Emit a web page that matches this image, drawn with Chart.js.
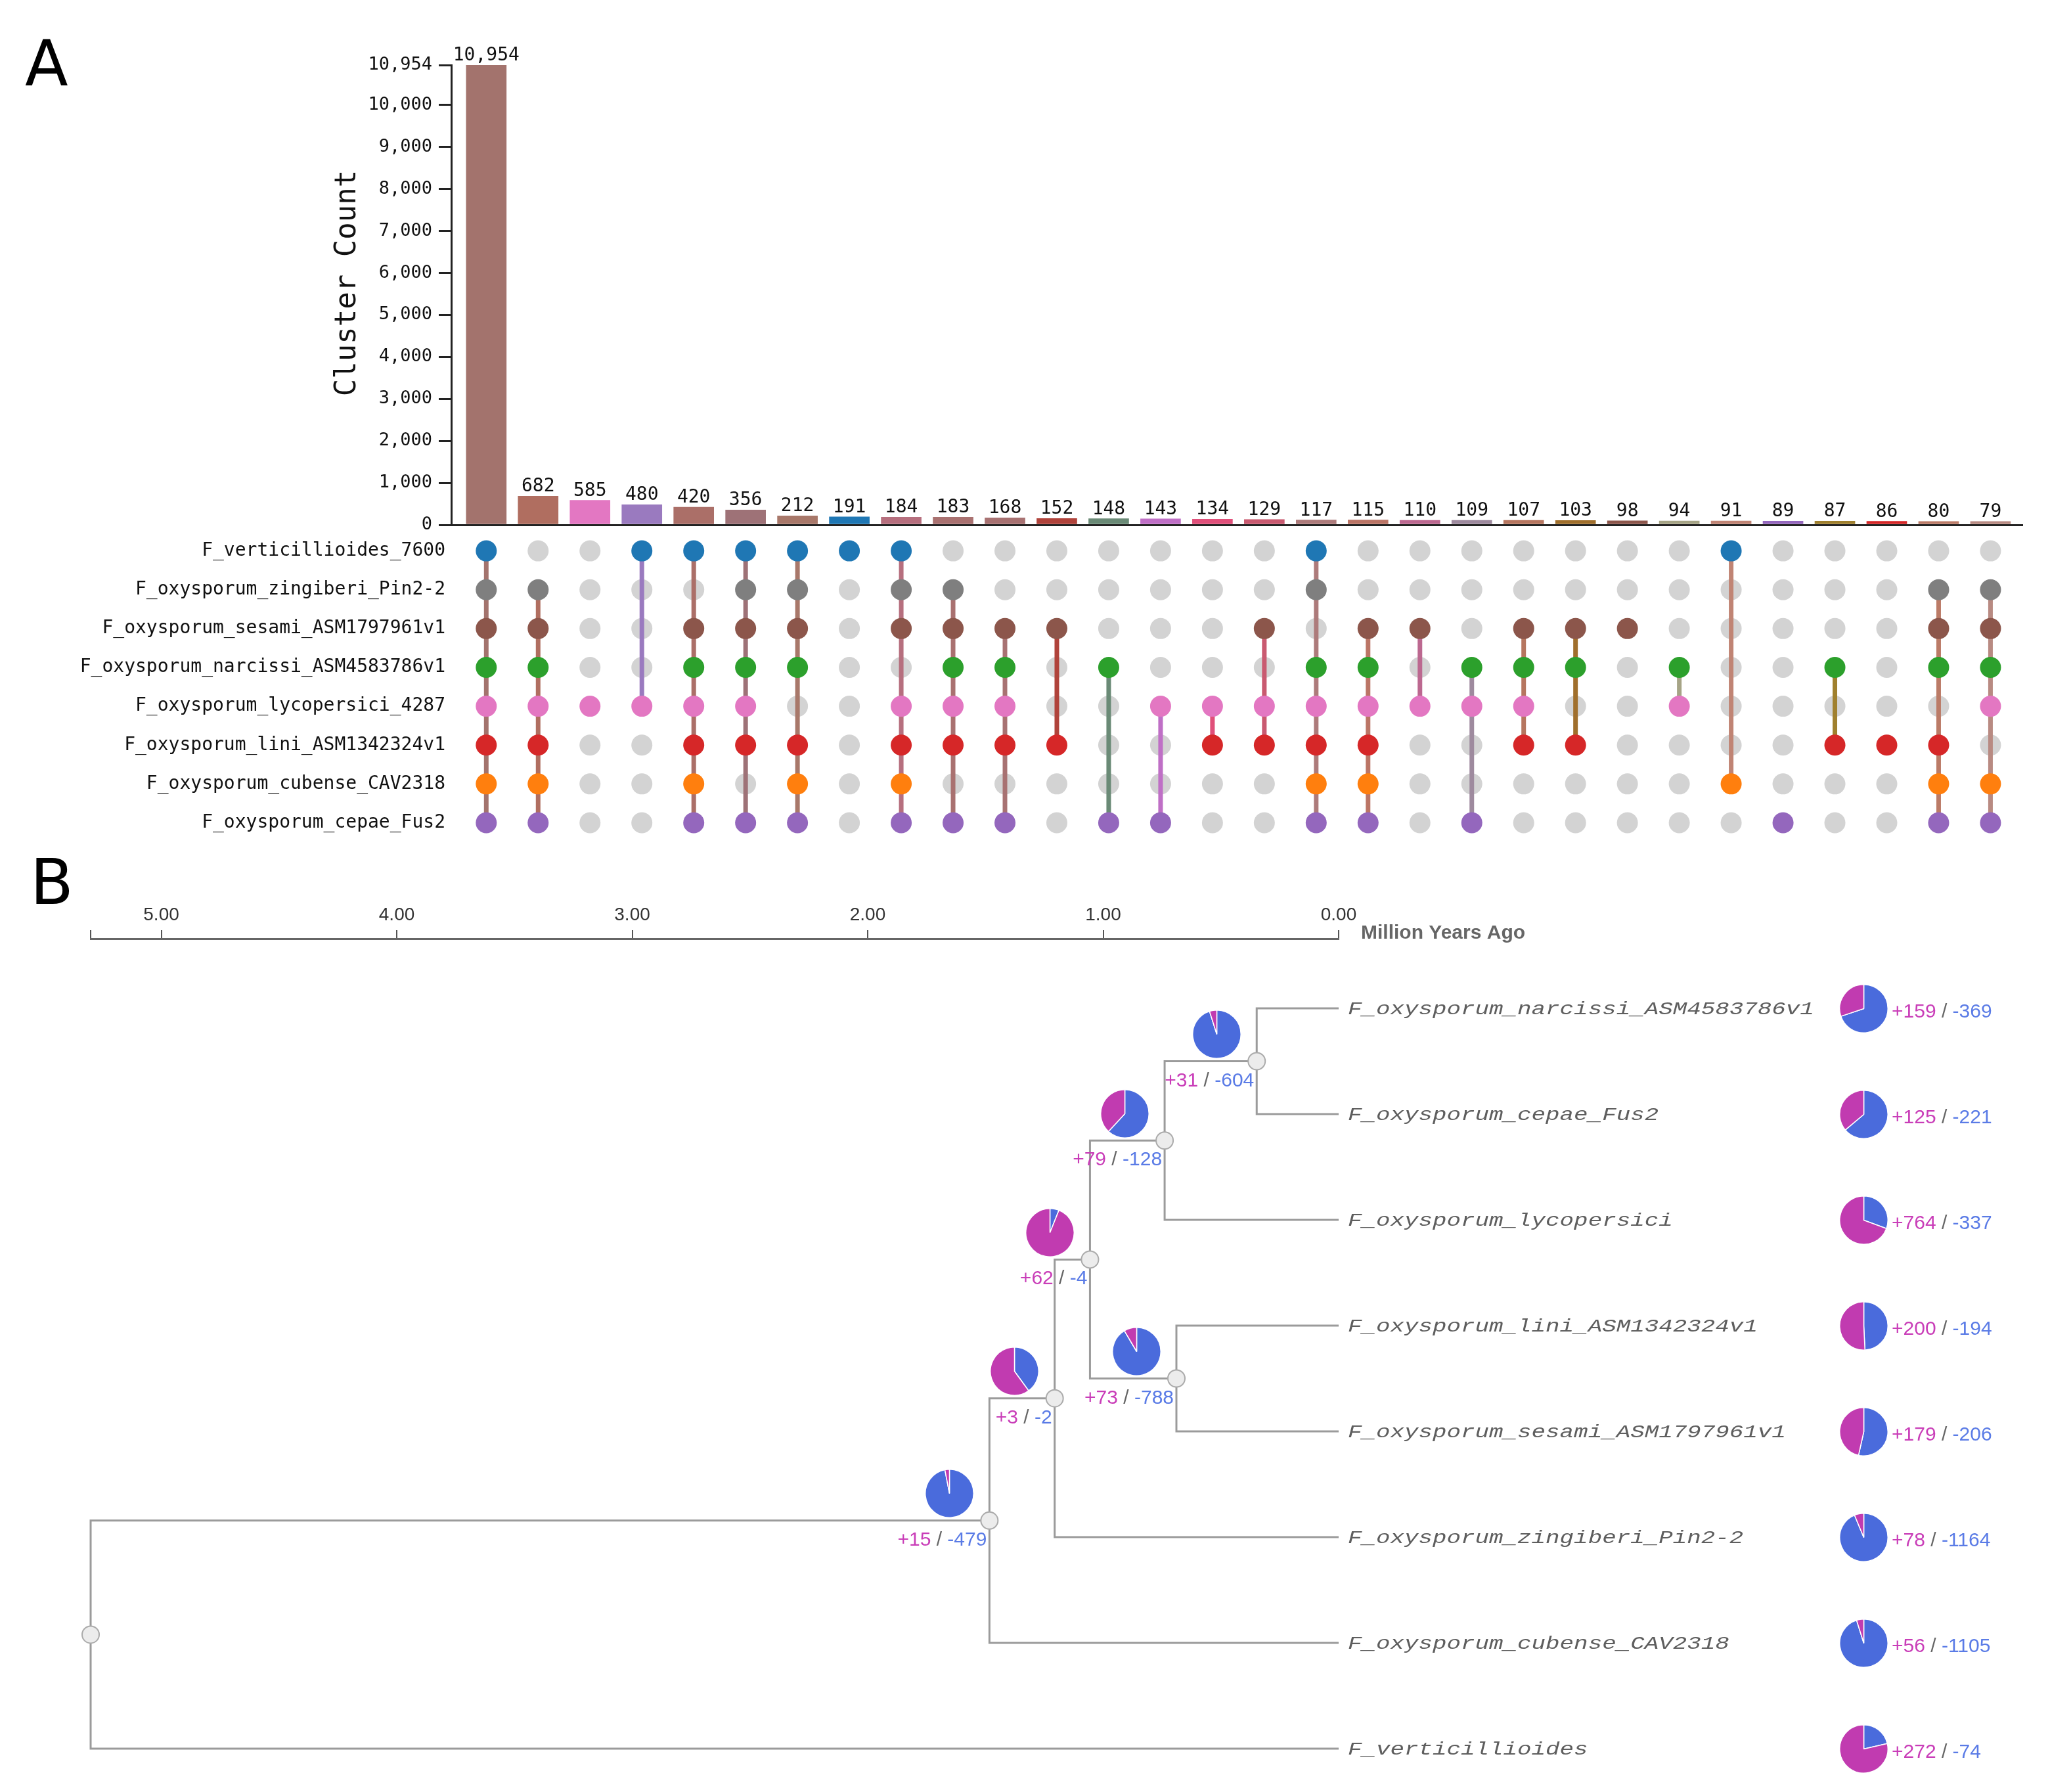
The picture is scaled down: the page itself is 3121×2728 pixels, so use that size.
<!DOCTYPE html>
<html><head><meta charset="utf-8">
<script src="https://cdn.jsdelivr.net/npm/chart.js@4.4.1/dist/chart.umd.min.js"></script>
<style>
html,body{margin:0;padding:0;background:#fff;}
#wrap{position:relative;width:3121px;height:2728px;overflow:hidden;background:#fff;}
canvas.full{position:absolute;left:0;top:0;}
.pie{position:absolute;}
.panel{position:absolute;font-family:"DejaVu Sans";font-size:96px;line-height:96px;color:#000;}
</style></head>
<body><div id="wrap">
<div class="panel" style="left:38px;top:49px">A</div>
<div class="panel" style="left:46px;top:1295px">B</div>
<canvas id="bars" class="full" width="3121" height="2728"></canvas>
<canvas id="matrix" class="full" width="3121" height="2728"></canvas>
<canvas id="tree" class="full" width="3121" height="2728"></canvas>
</div>
<script>
// ---------- Panel A data ----------
const counts = [10954,682,585,480,420,356,212,191,184,183,168,152,148,143,134,129,117,115,110,109,107,103,98,94,91,89,87,86,80,79];
const barColors = ['#a3736d','#b06e60','#e377c2','#9a7abf','#ab6f68','#9e7277','#a8786a','#1f77b4','#b66f7e','#a97170',
  '#a87272','#b0433b','#6a8a76','#bf6fc6','#e0507a','#c95a70','#ad7b7b','#bb7566','#bc6890','#9e8a9e',
  '#b6765f','#a06f2c','#8c564b','#a6a486','#c08474','#9467bd','#a0802e','#d62728','#bb7b67','#b88a82'];
const rowLabels = ['F_verticillioides_7600','F_oxysporum_zingiberi_Pin2-2','F_oxysporum_sesami_ASM1797961v1',
  'F_oxysporum_narcissi_ASM4583786v1','F_oxysporum_lycopersici_4287','F_oxysporum_lini_ASM1342324v1',
  'F_oxysporum_cubense_CAV2318','F_oxysporum_cepae_Fus2'];
const rowColors = ['#1f77b4','#7f7f7f','#8c564b','#2ca02c','#e377c2','#d62728','#ff7f0e','#9467bd'];
const membership = [
  [0,1,2,3,4,5,6,7],[1,2,3,4,5,6,7],[4],[0,4],[0,2,3,4,5,6,7],[0,1,2,3,4,5,7],[0,1,2,3,5,6,7],[0],
  [0,1,2,4,5,6,7],[1,2,3,4,5,7],[2,3,4,5,7],[2,5],[3,7],[4,7],[4,5],[2,4,5],[0,1,3,4,5,6,7],
  [2,3,4,5,6,7],[2,4],[3,4,7],[2,3,4,5],[2,3,5],[2],[3,4],[0,6],[7],[3,5],[5],[1,2,3,5,6,7],[1,2,3,4,6,7]];
const yTickValues = [0,1000,2000,3000,4000,5000,6000,7000,8000,9000,10000,10954];
const inactiveColor = '#d3d3d3';

// ---------- Panel B data ----------
const tipNames = ['F_oxysporum_narcissi_ASM4583786v1','F_oxysporum_cepae_Fus2','F_oxysporum_lycopersici',
  'F_oxysporum_lini_ASM1342324v1','F_oxysporum_sesami_ASM1797961v1','F_oxysporum_zingiberi_Pin2-2',
  'F_oxysporum_cubense_CAV2318','F_verticillioides'];
const tipGain = [159,125,764,200,179,78,56,272];
const tipLoss = [369,221,337,194,206,1164,1105,74];
const nodeAge = [0.348,0.739,0.689,1.056,1.206,1.483,5.30];
const nodeKids = [['t0','t1'],['n0','t2'],['t3','t4'],['n1','n2'],['n3','t5'],['n4','t6'],['n5','t7']];
const nodeGain = [31,79,73,62,3,15];
const nodeLoss = [604,128,788,4,2,479];
const axisTicks = [0,1,2,3,4,5,5.30];
const axisLabel = 'Million Years Ago';

const MAGENTA = '#c13bb0', BLUE = '#4a6bdc';
const MAG_TXT = '#c93db8', BLUE_TXT = '#5a7be6';

const fmt = v => v.toLocaleString('en-US');
const W = 3121, H = 2728;
const xMin = -0.675, xMax = 29.615;

// ---------- Bars ----------
const barLabelPlugin = {
  id: 'barLabels',
  afterDatasetsDraw(chart) {
    const ctx = chart.ctx;
    const meta = chart.getDatasetMeta(0);
    ctx.save();
    ctx.font = '28px "DejaVu Sans Mono"';
    ctx.fillStyle = '#111';
    ctx.textAlign = 'center';
    ctx.textBaseline = 'alphabetic';
    meta.data.forEach((el, i) => ctx.fillText(fmt(counts[i]), el.x, el.y - 7));
    // axis title
    ctx.translate(530, 431);
    ctx.rotate(-Math.PI / 2);
    ctx.font = '44px "DejaVu Sans Mono"';
    ctx.textBaseline = 'middle';
    ctx.fillText('Cluster Count', 0, 0);
    ctx.restore();
  }
};

new Chart(document.getElementById('bars'), {
  type: 'bar',
  data: { datasets: [{ data: counts.map((v, i) => ({ x: i, y: v })), backgroundColor: barColors, barThickness: 61, borderWidth: 0 }] },
  options: {
    responsive: false, animation: false, events: [],
    layout: { padding: { left: 504, top: 99, right: W - 3079, bottom: H - 799 } },
    plugins: { legend: { display: false }, tooltip: { enabled: false } },
    scales: {
      x: { type: 'linear', min: xMin, max: xMax, offset: false, grid: { display: false, drawTicks: false, offset: false }, ticks: { display: false },
           border: { display: true, color: '#222', width: 3 }, afterFit(s) { s.height = 0; } },
      y: { type: 'linear', min: 0, max: 10954,
           afterBuildTicks(s) { s.ticks = yTickValues.map(v => ({ value: v })); },
           ticks: { font: { family: 'DejaVu Sans Mono', size: 27 }, color: '#111', padding: 10, callback: v => fmt(v) },
           grid: { drawOnChartArea: false, drawTicks: true, tickLength: 19, color: '#222', lineWidth: 3 },
           border: { display: true, color: '#222', width: 3 },
           afterFit(s) { s.width = 687 - 504; } }
    }
  },
  plugins: [barLabelPlugin]
});

// ---------- Matrix ----------
const inactivePts = [];
membership.forEach((rows, c) => { for (let r = 0; r < rowLabels.length; r++) if (!rows.includes(r)) inactivePts.push({ x: c, y: r }); });
const matrixSets = membership.map((rows, c) => ({
  data: rows.map(r => ({ x: c, y: r })), showLine: true, borderColor: barColors[c], borderWidth: 7,
  pointRadius: 16, pointHoverRadius: 16, pointBackgroundColor: rows.map(r => rowColors[r]), pointBorderWidth: 0,
  clip: false, order: 1
}));
matrixSets.push({ data: inactivePts, showLine: false, pointRadius: 16, pointBackgroundColor: inactiveColor, pointBorderWidth: 0, clip: false, order: 5 });

new Chart(document.getElementById('matrix'), {
  type: 'scatter',
  data: { datasets: matrixSets },
  options: {
    responsive: false, animation: false, events: [],
    layout: { padding: { left: 0, top: 838.6, right: W - 3079, bottom: H - 1252.5 } },
    plugins: { legend: { display: false }, tooltip: { enabled: false } },
    scales: {
      x: { type: 'linear', min: xMin, max: xMax, display: false },
      y: { type: 'linear', min: 0, max: 7, reverse: true,
           afterBuildTicks(s) { s.ticks = rowLabels.map((_, i) => ({ value: i })); },
           ticks: { font: { family: 'DejaVu Sans Mono', size: 28 }, color: '#111', padding: 9, callback: v => rowLabels[v] },
           grid: { display: false, drawTicks: false }, border: { display: false },
           afterFit(s) { s.width = 687; } }
    }
  }
});

// ---------- Tree ----------
function pos(id) {
  if (id[0] === 't') return { x: 0, y: +id.slice(1) };
  const k = +id.slice(1);
  return { x: nodeAge[k], y: (pos(nodeKids[k][0]).y + pos(nodeKids[k][1]).y) / 2 };
}
const branchSets = nodeKids.map((kids, k) => {
  const a = pos(kids[0]), b = pos(kids[1]), x = nodeAge[k];
  return { data: [{ x: a.x, y: a.y }, { x: x, y: a.y }, { x: x, y: b.y }, { x: b.x, y: b.y }], showLine: true,
           borderColor: '#9b9b9b', borderWidth: 3, pointRadius: 0, borderJoinStyle: 'miter', clip: false, order: 3 };
});
const nodeSet = { data: nodeKids.map((_, k) => pos('n' + k)), showLine: false, pointRadius: 13, pointBackgroundColor: '#ececec',
                  pointBorderColor: '#ababab', pointBorderWidth: 2, clip: false, order: 0 };

function drawGainLoss(ctx, g, l, x, y, alignRight) {
  const parts = [['+' + g, MAG_TXT], [' / ', '#666'], ['-' + l, BLUE_TXT]];
  const widths = parts.map(p => ctx.measureText(p[0]).width);
  let cx = alignRight ? x - widths.reduce((a, b) => a + b, 0) : x;
  parts.forEach((p, i) => { ctx.fillStyle = p[1]; ctx.fillText(p[0], cx, y); cx += widths[i]; });
}

const treeLabelPlugin = {
  id: 'treeLabels',
  afterDraw(chart) {
    const ctx = chart.ctx, xs = chart.scales.x, ys = chart.scales.y;
    ctx.save();
    ctx.textAlign = 'left';
    ctx.textBaseline = 'alphabetic';
    // tip labels
    ctx.font = 'italic 28px "Liberation Mono"';
    ctx.fillStyle = '#5e5e5e';
    tipNames.forEach((n, i) => {
      const y = ys.getPixelForValue(i);
      ctx.save();
      ctx.translate(xs.getPixelForValue(0) + 14, y + 9);
      ctx.scale(1.28, 1);
      ctx.fillText(n, 0, 0);
      ctx.restore();
    });
    // tip gain/loss
    ctx.font = '30px "Liberation Sans"';
    tipNames.forEach((n, i) => drawGainLoss(ctx, tipGain[i], tipLoss[i], 2880, ys.getPixelForValue(i) + 14, false));
    // internal node gain/loss
    nodeGain.forEach((g, k) => {
      const p = pos('n' + k);
      drawGainLoss(ctx, g, nodeLoss[k], xs.getPixelForValue(p.x) - 4, ys.getPixelForValue(p.y) + 38, true);
    });
    // axis label
    ctx.font = 'bold 30px "Liberation Sans"';
    ctx.fillStyle = '#666';
    ctx.fillText(axisLabel, xs.getPixelForValue(0) + 34, chart.chartArea.top);
    ctx.restore();
  }
};

const tree = new Chart(document.getElementById('tree'), {
  type: 'scatter',
  data: { datasets: [...branchSets, nodeSet] },
  options: {
    responsive: false, animation: false, events: [],
    layout: { padding: { left: 138, top: 1349, right: W - 2038, bottom: H - 2662 } },
    plugins: { legend: { display: false }, tooltip: { enabled: false } },
    scales: {
      x: { type: 'linear', position: 'top', reverse: true, min: 0, max: 5.30,
           afterBuildTicks(s) { s.ticks = axisTicks.map(v => ({ value: v })); },
           ticks: { font: { family: 'Liberation Sans', size: 28 }, color: '#333', padding: 6, maxRotation: 0,
                    autoSkip: false, callback: v => (v === 5.30 ? '' : v.toFixed(2)) },
           grid: { drawOnChartArea: false, drawTicks: true, tickLength: 13, color: '#555', lineWidth: 2 },
           border: { display: true, color: '#666', width: 3 },
           afterFit(s) { s.height = 80; } },
      y: { type: 'linear', display: false, reverse: true, min: -0.6584, max: 7 }
    }
  },
  plugins: [treeLabelPlugin]
});

// ---------- Pies ----------
function makePie(cx, cy, gain, loss) {
  const size = 75;
  const c = document.createElement('canvas');
  c.className = 'pie';
  c.width = size; c.height = size;
  c.style.left = (cx - size / 2) + 'px';
  c.style.top = (cy - size / 2) + 'px';
  document.getElementById('wrap').appendChild(c);
  new Chart(c, {
    type: 'pie',
    data: { labels: ['loss', 'gain'], datasets: [{ data: [loss, gain], backgroundColor: [BLUE, MAGENTA], borderColor: '#fff', borderWidth: 1.5 }] },
    options: { responsive: false, animation: false, events: [], layout: { padding: 0 },
               plugins: { legend: { display: false }, tooltip: { enabled: false } } }
  });
}
const txs = tree.scales.x, tys = tree.scales.y;
tipNames.forEach((n, i) => makePie(2837, tys.getPixelForValue(i), tipGain[i], tipLoss[i]));
nodeGain.forEach((g, k) => {
  const p = pos('n' + k);
  makePie(txs.getPixelForValue(p.x) - 61, tys.getPixelForValue(p.y) - 41, g, nodeLoss[k]);
});
</script>
</body></html>
